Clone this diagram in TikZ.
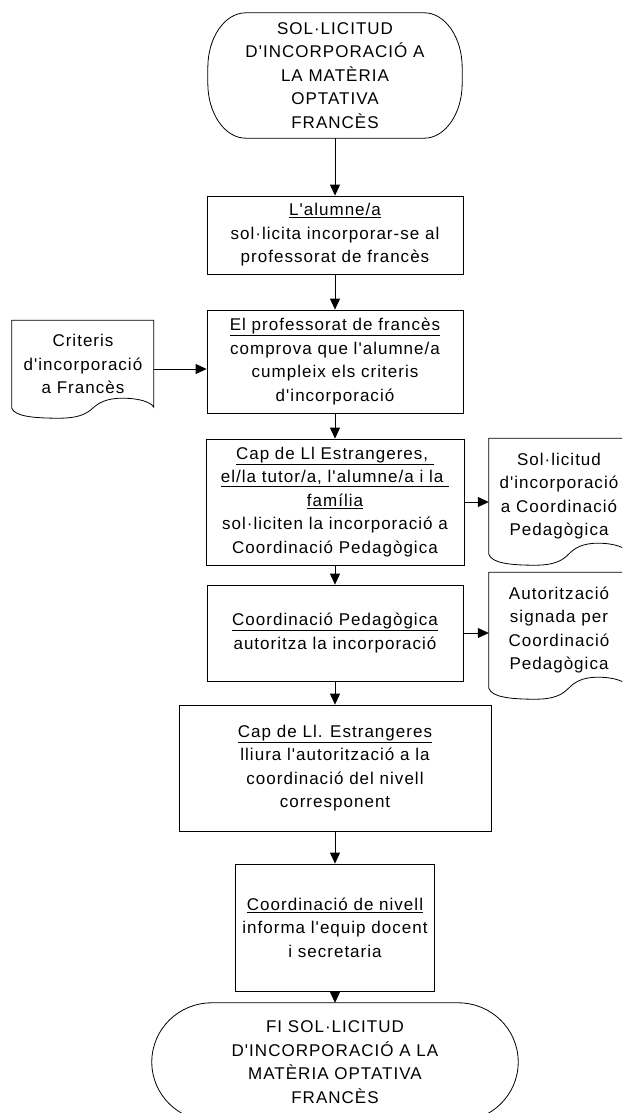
\documentclass[tikz,border=0pt]{standalone}
\usepackage{fontspec}
\setmainfont{Liberation Sans}[Ligatures=TeXOff,LetterSpace=6]
\usetikzlibrary{arrows.meta,calc}

% Terminator outline drawn round a named node: #1 node, #2 x radius, #3 y radius
\newcommand\flowterm[3]{%
  \draw[shapeline] ([xshift=#2]#1.north west) -- ([xshift=-#2]#1.north east)
    arc[start angle=90,end angle=0,x radius=#2,y radius=#3]
    -- ([yshift=#3]#1.south east)
    arc[start angle=0,end angle=-90,x radius=#2,y radius=#3]
    -- ([xshift=#2]#1.south west)
    arc[start angle=270,end angle=180,x radius=#2,y radius=#3]
    -- ([yshift=-#3]#1.north west)
    arc[start angle=180,end angle=90,x radius=#2,y radius=#3] -- cycle;}

% Document outline with a wavy bottom: #1 node, #2 width, #3 height, #4 wave depth
\newcommand\flowdoc[4]{%
  \begin{scope}[shift={(#1.south west)}]
    \draw[shapeline] (0,#3) -- (0,0)
      .. controls ({0.02*#2},{-0.8*#4}) and ({0.15*#2},{-#4}) .. ({0.33*#2},{-#4})
      .. controls ({0.48*#2},{-#4}) and ({0.53*#2},{-0.5*#4}) .. ({0.57*#2},0)
      .. controls ({0.61*#2},{0.5*#4}) and ({0.66*#2},{#4}) .. ({0.78*#2},{#4})
      .. controls ({0.9*#2},{#4}) and ({0.98*#2},{0.6*#4}) .. (#2,{0.1*#4})
      -- (#2,#3) -- cycle;
  \end{scope}}

\tikzset{
  shapeline/.style={draw=black,line width=0.8pt},
  txt/.style={inner sep=0pt,align=center,font=\fontsize{17}{23.5}\selectfont},
  stepbox/.style={txt,shapeline},
  plainbox/.style={txt},
  flow/.style={shapeline,-{Triangle[length=11pt,width=10pt]}}
}

\begin{document}
\begin{tikzpicture}[x=1pt,y=1pt]
\useasboundingbox (0,0) rectangle (622,-1113);
\clip (0,0) rectangle (622,-1113);

% start and end terminators
\node[plainbox,minimum width=254pt,minimum height=125pt] (start) at (335,-75.5)
  {SOL·LICITUD\\D'INCORPORACIÓ A\\LA MATÈRIA\\OPTATIVA\\FRANCÈS};
\flowterm{start}{38pt}{55pt}

\node[plainbox,minimum width=366pt,minimum height=118pt] (end) at (335,-1062)
  {FI SOL·LICITUD\\D'INCORPORACIÓ A LA\\MATÈRIA OPTATIVA\\FRANCÈS};
\flowterm{end}{60pt}{59pt}

% process steps
\node[stepbox,minimum width=256pt,minimum height=78pt] (b1) at (335,-235)
  {\underline{L'alumne/a}\\sol·licita incorporar-se al\\professorat de francès};
\node[stepbox,minimum width=256pt,minimum height=103pt] (b2) at (335,-361.5)
  {\underline{El professorat de francès}\\comprova que l'alumne/a\\cumpleix els criteris\\d'incorporació};
\node[stepbox,minimum width=258pt,minimum height=126pt] (b3) at (335,-502)
  {\underline{Cap de Ll Estrangeres,\ }\\\underline{el/la tutor/a, l'alumne/a i la\ }\\\underline{família}\\sol·liciten la incorporació a\\Coordinació Pedagògica};
\node[stepbox,minimum width=256pt,minimum height=96pt] (b4) at (335,-633)
  {\underline{Coordinació Pedagògica}\\autoritza la incorporació};
\node[stepbox,minimum width=312pt,minimum height=126pt] (b5) at (335,-768)
  {\underline{Cap de Ll. Estrangeres}\\lliura l'autorització a la\\coordinació del nivell\\corresponent};
\node[stepbox,minimum width=199pt,minimum height=127pt] (b6) at (335,-927.5)
  {\underline{Coordinació de nivell}\\informa l'equip docent\\i secretaria};

% documents
\node[plainbox,minimum width=142pt,minimum height=88pt] (d1) at (83,-364)
  {Criteris\\d'incorporació\\a Francès};
\flowdoc{d1}{142}{88}{10}
\node[plainbox,minimum width=140pt,minimum height=116pt] (d2) at (559,-496)
  {Sol·licitud\\d'incorporació\\a Coordinació\\Pedagògica};
\flowdoc{d2}{140}{116}{11}
\node[plainbox,minimum width=140pt,minimum height=116pt] (d3) at (559,-630)
  {Autorització\\signada per\\Coordinació\\Pedagògica};
\flowdoc{d3}{140}{116}{11}

% connectors
\draw[flow] (start.south) -- (b1.north);
\draw[flow] (b1.south) -- (b2.north);
\draw[flow] (b2.south) -- (b3.north);
\draw[flow] (b3.south) -- (b4.north);
\draw[flow] (b4.south) -- (b5.north);
\draw[flow] (b5.south) -- (b6.north);
\draw[flow] (b6.south) -- (end.north);
\draw[flow] ([yshift=-5pt]d1.east) -- ([yshift=-5pt]d1.east -| b2.west);
\draw[flow] (b3.east) -- (b3.east -| d2.west);
\draw[flow] (b4.east) -- (b4.east -| d3.west);
\end{tikzpicture}
\end{document}
